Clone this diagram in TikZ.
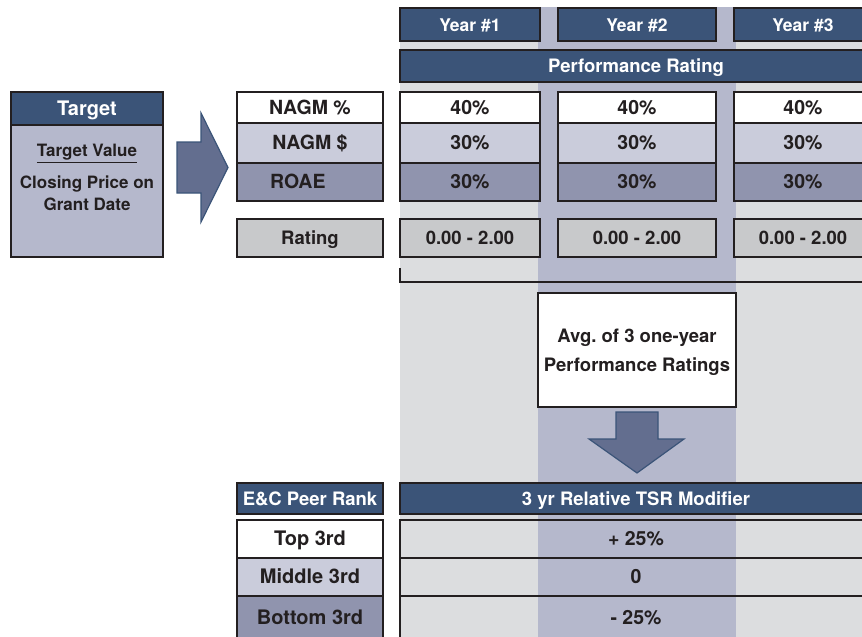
\documentclass[tikz,border=0pt]{standalone}
\usepackage{fontspec}
\setmainfont{TeX Gyre Heros}
\usepackage{xcolor}
\usepackage{tikz}
\usetikzlibrary{positioning}

\definecolor{ink}{HTML}{231F20}
\definecolor{navy}{HTML}{3B5478}
\definecolor{lavband}{HTML}{B5B8CC}
\definecolor{grayband}{HTML}{DCDDDF}
\definecolor{rowlight}{HTML}{CACCDB}
\definecolor{rowmid}{HTML}{9094AE}
\definecolor{rategray}{HTML}{C8C9CB}
\definecolor{arrowfill}{HTML}{636E8F}

\begin{document}
\begin{tikzpicture}[x=1pt,y=-1pt,
    every node/.style={font=\bfseries\fontsize{18.5}{22}\selectfont, text=ink},
    capc/.style={text height=13.2pt, text depth=0pt},
    box/.style={capc, draw=ink, line width=1.6pt, inner sep=0pt},
    head/.style={box, fill=navy, text=white},
    rowfont/.style={font=\bfseries\fontsize{19.5}{22}\selectfont},
    bigarrow/.style={fill=arrowfill, draw=navy, line width=1.2pt, line join=miter}]

  \clip (0,0) rectangle (862,637);

  % background bands
  \fill[grayband] (400,7) rectangle (872,640);
  \fill[lavband] (538,7) rectangle (736,640);

  % target box
  \node[head, font=\bfseries\fontsize{20}{22}\selectfont, minimum width=152pt, minimum height=33pt] (tgthead) at (87,108.5) {Target};
  \node[box, fill=lavband, minimum width=152pt, minimum height=132pt] (tgtbody) at (87,191) {};
  \node[capc, font=\bfseries\fontsize{17}{22}\selectfont] (tgtval) at (87,150) {\underline{Target Value}};
  \node[font=\bfseries\fontsize{17}{22}\selectfont, align=center] (tgtprice) at (87,193.5) {Closing Price on\\Grant Date};

  % right arrow
  \draw[bigarrow] (177,142) -- (201,142) -- (201,113) -- (228,167.5) -- (201,222) -- (201,193) -- (177,193) -- cycle;

  % year headers
  \node[head, font=\bfseries\fontsize{17.5}{22}\selectfont, minimum width=140pt, minimum height=33pt] (year1) at (470,24.5) {Year \#1};
  \node[head, font=\bfseries\fontsize{17.5}{22}\selectfont, minimum width=158pt, minimum height=33pt] (year2) at (637,24.5) {Year \#2};
  \node[head, font=\bfseries\fontsize{17.5}{22}\selectfont, minimum width=138pt, minimum height=33pt] (year3) at (803,24.5) {Year \#3};
  \node[head, minimum width=472pt, minimum height=32pt] (perf) at (636,66) {Performance Rating};

  % metric labels
  \node[box, rowfont, fill=white, minimum width=146pt, minimum height=31pt] (nagmp) at (310,107.5) {NAGM \%};
  \node[box, rowfont, fill=rowlight, minimum width=146pt, minimum height=40pt] (nagmd) at (310,143) {NAGM \$};
  \node[box, rowfont, fill=rowmid, minimum width=146pt, minimum height=38pt, inner xsep=33pt, text width=80pt, align=left] (roae) at (310,182) {ROAE};
  \node[box, fill=rategray, minimum width=146pt, minimum height=38pt] (rating) at (310,238) {Rating};

  % weights, year 1
  \node[box, rowfont, fill=white, minimum width=140pt, minimum height=31pt] (wp1) at (470,107.5) {40\%};
  \node[box, rowfont, fill=rowlight, minimum width=140pt, minimum height=40pt] (wd1) at (470,143) {30\%};
  \node[box, rowfont, fill=rowmid, minimum width=140pt, minimum height=38pt] (wr1) at (470,182) {30\%};
  \node[box, fill=rategray, minimum width=140pt, minimum height=38pt] (rate1) at (470,238) {0.00 - 2.00};

  % weights, year 2
  \node[box, rowfont, fill=white, minimum width=158pt, minimum height=31pt] (wp2) at (637,107.5) {40\%};
  \node[box, rowfont, fill=rowlight, minimum width=158pt, minimum height=40pt] (wd2) at (637,143) {30\%};
  \node[box, rowfont, fill=rowmid, minimum width=158pt, minimum height=38pt] (wr2) at (637,182) {30\%};
  \node[box, fill=rategray, minimum width=158pt, minimum height=38pt] (rate2) at (637,238) {0.00 - 2.00};

  % weights, year 3
  \node[box, rowfont, fill=white, minimum width=138pt, minimum height=31pt] (wp3) at (803,107.5) {40\%};
  \node[box, rowfont, fill=rowlight, minimum width=138pt, minimum height=40pt] (wd3) at (803,143) {30\%};
  \node[box, rowfont, fill=rowmid, minimum width=138pt, minimum height=38pt] (wr3) at (803,182) {30\%};
  \node[box, fill=rategray, minimum width=138pt, minimum height=38pt] (rate3) at (803,238) {0.00 - 2.00};

  % bracket under the ratings
  \coordinate (brkTop) at (400,268);
  \coordinate (brkCorner) at (400,282);
  \coordinate (brkEnd) at (872,282);
  \draw[ink, line width=1.6pt] (brkTop) -- (brkCorner) -- (brkEnd);

  % average box
  \node[box, fill=white, minimum width=198pt, minimum height=114pt] (avg) at (637,350) {};
  \node[align=center, font=\bfseries\fontsize{18.5}{29}\selectfont] (avgtext) at (637,352.5) {Avg.\ of 3 one-year\\Performance Ratings};

  % down arrow
  \draw[bigarrow] (616,412) -- (658,412) -- (658,439) -- (684,439) -- (637,473) -- (589,439) -- (616,439) -- cycle;

  % modifier table
  \node[head, minimum width=146pt, minimum height=31pt] (peer) at (310,498.5) {E\&C Peer Rank};
  \node[head, minimum width=472pt, minimum height=31pt] (tsr) at (636,498.5) {3 yr Relative TSR Modifier};

  \node[box, font=\bfseries\fontsize{20}{22}\selectfont, fill=white, minimum width=146pt, minimum height=38pt] (top) at (310,539) {Top 3rd};
  \node[box, font=\bfseries\fontsize{20}{22}\selectfont, fill=rowlight, minimum width=146pt, minimum height=38pt] (mid) at (310,577) {Middle 3rd};
  \node[box, font=\bfseries\fontsize{20}{22}\selectfont, fill=rowmid, minimum width=146pt, minimum height=44pt] (bot) at (310,618) {Bottom 3rd};

  \node[box, font=\bfseries\fontsize{19.5}{22}\selectfont, minimum width=472pt, minimum height=38pt] (modtop) at (636,539) {+ 25\%};
  \node[box, font=\bfseries\fontsize{19.5}{22}\selectfont, minimum width=472pt, minimum height=38pt] (modmid) at (636,577) {0};
  \node[box, font=\bfseries\fontsize{19.5}{22}\selectfont, minimum width=472pt, minimum height=44pt] (modbot) at (636,618) {- 25\%};

\end{tikzpicture}
\end{document}
